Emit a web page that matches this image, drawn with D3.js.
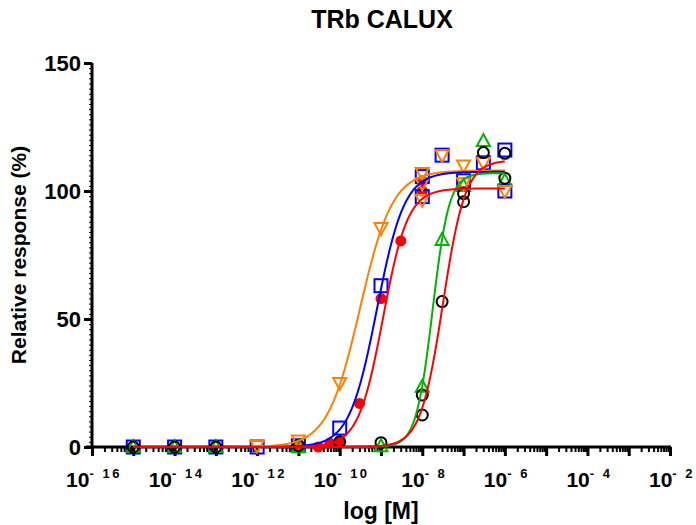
<!DOCTYPE html>
<html>
<head>
<meta charset="utf-8">
<script src="https://cdn.jsdelivr.net/npm/d3@7"></script>
<style>
  body { margin: 0; background: #fff; }
  text { font-family: "Liberation Sans", Arial, sans-serif; font-weight: bold; }
</style>
</head>
<body>
<div id="chart"></div>
<script>
// exponents (log10 of molar concentration) and response (%)
var orangeX = [-12, -11, -10, -9, -8, -8, -8, -7.52, -7, -7, -6.52, -6];
var orangeY = [0.5, 2.5, 25, 85.5, 107, 103, 96.5, 114, 110, 103, 111, 100];

var blueX = [-15, -14, -13, -12, -11, -10, -9, -8, -8, -7.52, -7, -6.52, -6, -6];
var blueY = [0, 0, 0, 0, 0.5, 7.4, 63, 105.6, 97.8, 114, 104, 111, 116, 100];

var redX = [-11, -10.52, -10.24, -10, -9.52, -9, -8.52, -8, -8];
var redY = [0.3, 0, 1.5, 2.5, 17, 58, 80.5, 100, 104];

var greenX = [-15, -14, -13, -11, -9, -8, -7.52, -7, -6.52, -6];
var greenY = [0, 0, 0, 0, 0.3, 23.5, 80.9, 102, 119.5, 104];

var blackX = [-15, -14, -13, -11, -10, -9, -8, -8, -7.52, -7, -7, -6.52, -6, -6];
var blackY = [0, 0, 0, 0.5, 2, 1.7, 20.3, 12.5, 56.8, 99, 95.8, 115, 114.7, 105];

// fitted curves (log EC50, hill slope, top), bottom = 0, drawn from 1e-15 to 1e-6
var curveNames = ["orange", "blue", "green", "black", "red"];
var curveColors = ["#ff8000", "#0000ff", "#00b400", "#ff0000", "#ff0000"];
var curveEC50 = [-9.51, -9.1, -7.75, -7.5, -8.95];
var curveHill = [1.1, 1.3, 2.17, 1.6, 1.45];
var curveTop = [108, 107.5, 107, 112, 101];

var xTickLabels = [-16, -14, -12, -10, -8, -6, -4, -2];
var yTickValues = [0, 50, 100, 150];

var W = 696, H = 525;
var svg = d3.select("#chart").append("svg")
    .attr("width", W).attr("height", H);

var x = d3.scaleLog().domain([1e-16, 1e-2]).range([92, 670]);
var y = d3.scaleLinear().domain([0, 150]).range([447, 63]);

// title + axis titles
svg.append("text")
    .attr("x", 382).attr("y", 28)
    .attr("text-anchor", "middle")
    .attr("font-size", 25)
    .text("TRb CALUX");

svg.append("text")
    .attr("transform", "translate(26,255) rotate(-90)")
    .attr("text-anchor", "middle")
    .attr("font-size", 21)
    .text("Relative response (%)");

svg.append("text")
    .attr("x", 381).attr("y", 519)
    .attr("text-anchor", "middle")
    .attr("font-size", 23)
    .text("log [M]");

// y axis
var yAxis = svg.append("g")
    .attr("transform", "translate(92,0)")
    .call(d3.axisLeft(y).tickValues(yTickValues).tickSize(8).tickFormat(d3.format("d")));
yAxis.select(".domain").attr("stroke-width", 3).attr("d", "M0,63V447");
yAxis.selectAll(".tick line").attr("stroke-width", 3);
yAxis.selectAll(".tick text")
    .attr("font-size", 22).attr("font-family", "Liberation Sans, Arial, sans-serif")
    .attr("font-weight", "bold").attr("fill", "#000").attr("x", -11).attr("dy", "0.36em");

svg.append("g")
    .attr("transform", "translate(92,0)")
    .call(d3.axisLeft(y).tickValues(d3.range(0, 151, 2)).tickSize(3).tickFormat(""))
    .call(function(g) { g.select(".domain").remove(); });

// x axis: decades long, 2..9 short
var majors = d3.range(-16, -1).map(function(e) { return Math.pow(10, e); });
var minors = [];
d3.range(-16, -2).forEach(function(e) {
  for (var m = 2; m < 10; m++) minors.push(m * Math.pow(10, e));
});

var xAxis = svg.append("g")
    .attr("transform", "translate(0,447)")
    .call(d3.axisBottom(x).tickValues(majors).tickSize(9).tickFormat(""));
xAxis.select(".domain").attr("stroke-width", 3).attr("d", "M86,0H671");
xAxis.selectAll(".tick line").attr("stroke-width", 3);

svg.append("g")
    .attr("transform", "translate(0,447)")
    .call(d3.axisBottom(x).tickValues(minors).tickSize(5).tickFormat(""))
    .call(function(g) { g.select(".domain").remove(); })
    .selectAll(".tick line").attr("stroke-width", 2);

var lab = svg.append("g").selectAll("text")
    .data(xTickLabels)
    .enter().append("text")
    .attr("x", function(d) { return x(Math.pow(10, d)) + 2; })
    .attr("y", 487)
    .attr("text-anchor", "middle")
    .attr("font-size", 21);
lab.append("tspan").text("10");
lab.append("tspan")
    .attr("dy", -9)
    .attr("font-size", 13)
    .attr("letter-spacing", 2.5)
    .text(function(d) { return String(d).replace("-", "- "); });

// markers
function pts(xs, ys) {
  return xs.map(function(v, i) { return { x: x(Math.pow(10, v)), y: y(ys[i]) }; });
}

var marks = svg.append("g");

marks.selectAll(".red").data(pts(redX, redY)).enter().append("circle")
    .attr("cx", function(d) { return d.x; }).attr("cy", function(d) { return d.y; })
    .attr("r", 5.5).attr("fill", "#ff0000");

marks.selectAll(".blue").data(pts(blueX, blueY)).enter().append("rect")
    .attr("x", function(d) { return d.x - 6.5; }).attr("y", function(d) { return d.y - 6.5; })
    .attr("width", 13).attr("height", 13)
    .attr("fill", "none").attr("stroke", "#0000ff").attr("stroke-width", 2);

marks.selectAll(".green").data(pts(greenX, greenY)).enter().append("path")
    .attr("d", function(d) { return "M" + d.x + "," + (d.y - 7) + "L" + (d.x + 6.5) + "," + (d.y + 5) + "L" + (d.x - 6.5) + "," + (d.y + 5) + "Z"; })
    .attr("fill", "none").attr("stroke", "#00b400").attr("stroke-width", 2);

marks.selectAll(".orange").data(pts(orangeX, orangeY)).enter().append("path")
    .attr("d", function(d) { return "M" + d.x + "," + (d.y + 7) + "L" + (d.x + 6.5) + "," + (d.y - 5) + "L" + (d.x - 6.5) + "," + (d.y - 5) + "Z"; })
    .attr("fill", "none").attr("stroke", "#ff8000").attr("stroke-width", 2);

marks.selectAll(".black").data(pts(blackX, blackY)).enter().append("circle")
    .attr("cx", function(d) { return d.x; }).attr("cy", function(d) { return d.y; })
    .attr("r", 5.5).attr("fill", "none").attr("stroke", "#000").attr("stroke-width", 2);

// fitted curves
var line = d3.line().curve(d3.curveBasis)
    .x(function(d) { return x(Math.pow(10, d[0])); })
    .y(function(d) { return y(d[1]); });

var xs = d3.range(-15, -5.99, 0.02);
curveNames.forEach(function(name, k) {
  var c = xs.map(function(v) {
    return [v, curveTop[k] / (1 + Math.pow(10, curveHill[k] * (curveEC50[k] - v)))];
  });
  svg.append("path")
      .attr("class", "curve-" + name)
      .attr("d", line(c))
      .attr("fill", "none")
      .attr("stroke", curveColors[k])
      .attr("stroke-width", 2);
});
</script>
</body>
</html>
